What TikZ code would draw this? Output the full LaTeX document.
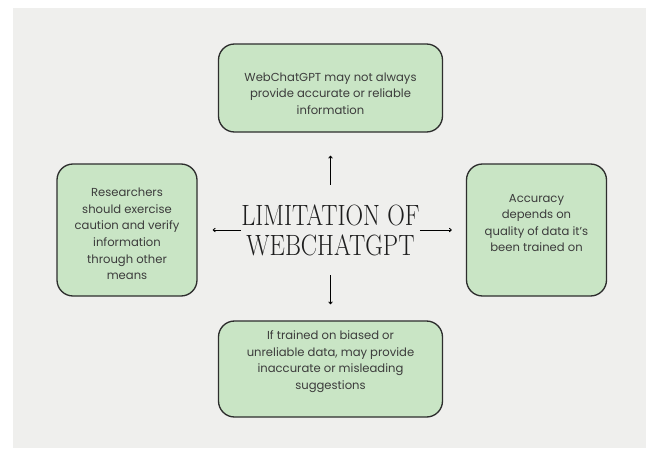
\documentclass[tikz,border=0pt]{standalone}
\usepackage{fontspec}
\setmainfont{Poppins}
\newfontfamily\titlefont[FakeStretch=0.83]{Latin Modern Roman}
\usetikzlibrary{arrows.meta}

\definecolor{paper}{RGB}{239,239,237}
\definecolor{boxgreen}{RGB}{201,229,197}
\definecolor{boxline}{RGB}{45,45,45}
\definecolor{txtgray}{RGB}{60,60,60}

\tikzset{
  box/.style={draw=boxline,fill=boxgreen,line width=1pt,rounded corners=12pt,inner sep=0pt},
  txt/.style={align=center,text=txtgray,font=\fontsize{8.7}{12.4}\selectfont,inner sep=0pt},
  arr/.style={-{To[length=2.2pt,width=3.2pt]},line width=0.65pt,black}
}

\begin{document}
\begin{tikzpicture}[x=0.75pt,y=-0.75pt]
% Canvas
\useasboundingbox (0,0) rectangle (646,450);
\fill[white] (0,0) rectangle (646,450);
\fill[paper] (13,8) rectangle (646,448);

% Title
\node[minimum width=131pt,minimum height=67.5pt,inner sep=0pt,align=center,
  font=\titlefont\fontsize{22}{22.5}\selectfont,text={rgb,255:red,30;green,30;blue,30}]
  (title) at (330.5,230) {LIMITATION OF\\WEBCHATGPT};

% Boxes
\node[box,minimum width=168pt,minimum height=66pt] (top) at (330.5,88) {};
\node[box,minimum width=168pt,minimum height=72pt] (bottom) at (330.5,369) {};
\node[box,minimum width=105pt,minimum height=99pt] (left) at (127,230) {};
\node[box,minimum width=105pt,minimum height=99pt] (right) at (536.5,230) {};

% Box texts
\node[txt] (topTxt) at (330.5,93.5) {WebChatGPT may not always\\provide accurate or reliable\\information};
\node[txt] (bottomTxt) at (330.5,361.5) {If trained on biased or\\unreliable data, may provide\\inaccurate or misleading\\suggestions};
\node[txt] (leftTxt) at (127,234) {Researchers\\should exercise\\caution and verify\\information\\through other\\means};
\node[txt] (rightTxt) at (536.5,223) {Accuracy\\depends on\\quality of data it's\\been trained on};

% Arrows
\foreach \b/\s in {top/17.25pt, bottom/12pt, left/11.25pt, right/10.5pt} {
  \draw[arr,shorten >=\s] (title) -- (\b);
}

\end{tikzpicture}
\end{document}
